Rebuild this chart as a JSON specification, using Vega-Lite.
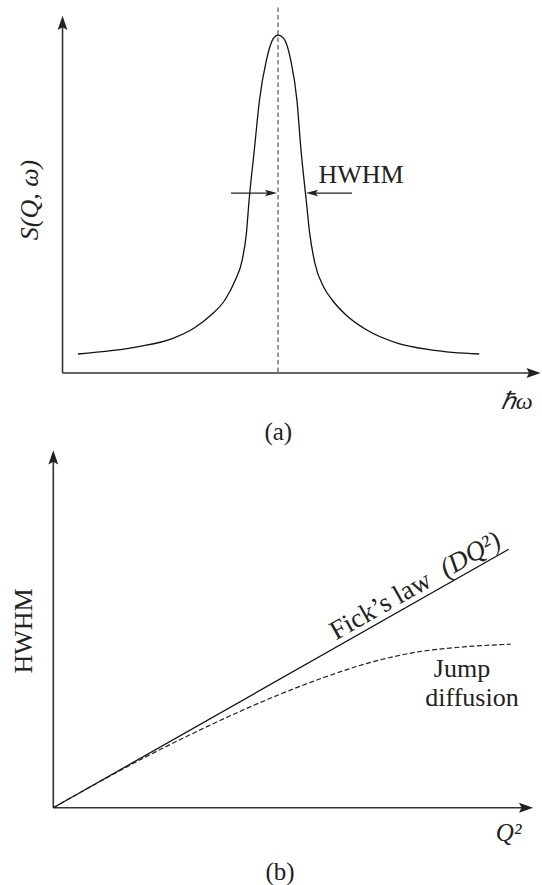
{
  "$schema": "https://vega.github.io/schema/vega-lite/v6.json",
  "padding": 0,
  "spacing": 0,
  "background": "white",
  "config": {"view": {"stroke": null}, "font": "Liberation Serif"},
  "datasets": {
    "axesA": [
      {"x": -7.696, "y": 0, "x2": -7.696, "y2": 1.0355},
      {"x": -7.696, "y": 0, "x2": 9.07, "y2": 0}
    ],
    "centerA": [{"x": 0, "y": 0.003, "x2": 0, "y2": 1.0888}],
    "hwhmLines": [
      {"x": -1.679, "y": 0.5325, "x2": -0.25, "y2": 0.5325},
      {"x": 2.643, "y": 0.5325, "x2": 1.214, "y2": 0.5325}
    ],
    "headsA": [
      {"x": -7.696, "y": 1.0355, "angle": 0},
      {"x": 9.121, "y": 0, "angle": 90}
    ],
    "smallHeads": [
      {"x": -0.25, "y": 0.5325, "angle": 90},
      {"x": 1.214, "y": 0.5325, "angle": 270}
    ],
    "curve": [
      {"x": -7.146, "y": 0.0562}, {"x": -4.986, "y": 0.0778}, {"x": -3.75, "y": 0.1027},
      {"x": -3.007, "y": 0.1322}, {"x": -2.393, "y": 0.1716}, {"x": -1.896, "y": 0.216},
      {"x": -1.525, "y": 0.2751}, {"x": -1.279, "y": 0.3343}, {"x": -1.129, "y": 0.4133},
      {"x": -1.032, "y": 0.5118}, {"x": -0.846, "y": 0.6598}, {"x": -0.661, "y": 0.8077},
      {"x": -0.414, "y": 0.926}, {"x": -0.164, "y": 0.9902}, {"x": 0, "y": 1.0},
      {"x": 0.204, "y": 0.9902}, {"x": 0.454, "y": 0.926}, {"x": 0.675, "y": 0.8077},
      {"x": 0.821, "y": 0.6598}, {"x": 1.007, "y": 0.5118}, {"x": 1.132, "y": 0.4133},
      {"x": 1.318, "y": 0.3246}, {"x": 1.625, "y": 0.2553}, {"x": 1.936, "y": 0.216},
      {"x": 2.429, "y": 0.1716}, {"x": 3.171, "y": 0.1272}, {"x": 4.282, "y": 0.0879},
      {"x": 5.518, "y": 0.068}, {"x": 7.186, "y": 0.0562}
    ],
    "textA": [
      {"x": 2.964, "y": 0.5858, "label": "HWHM", "fs": 26, "angle": 0},
      {"x": 0.0107, "y": -0.1737, "label": "(a)", "fs": 25, "angle": 0}
    ],
    "italicA": [
      {"x": -8.857, "y": 0.5118, "label": "S(Q, ω)", "fs": 26, "angle": 270},
      {"x": 8.525, "y": -0.0849, "label": "ℏω", "fs": 24, "angle": 0}
    ],
    "axesB": [
      {"x": 0, "y": 0, "x2": 0, "y2": 7.69},
      {"x": 0, "y": 0, "x2": 10.35, "y2": 0}
    ],
    "headsB": [
      {"x": 0, "y": 7.69, "angle": 0},
      {"x": 10.377, "y": 0, "angle": 90}
    ],
    "fick": [{"x": 0, "y": 0}, {"x": 10, "y": 5.674}],
    "jump": [
      {"x": 0, "y": 0}, {"x": 1, "y": 0.56}, {"x": 2, "y": 1.1}, {"x": 3, "y": 1.6},
      {"x": 4, "y": 2.07}, {"x": 5, "y": 2.5}, {"x": 6, "y": 2.88}, {"x": 7, "y": 3.2},
      {"x": 8, "y": 3.42}, {"x": 9, "y": 3.53}, {"x": 10.04, "y": 3.59}
    ],
    "fickText": [
      {"x": 7.339, "y": 4.164, "label": "Fick’s law", "fs": 27, "angle": 330.43}
    ],
    "fickMath": [
      {"x": 9.313, "y": 5.284, "label": "(DQ²)", "fs": 27, "angle": 330.43}
    ],
    "textB": [
      {"x": 8.975, "y": 3.046, "label": "Jump", "fs": 26, "angle": 0},
      {"x": 9.194, "y": 2.415, "label": "diffusion", "fs": 26, "angle": 0},
      {"x": -0.639, "y": 3.88, "label": "HWHM", "fs": 26, "angle": 270},
      {"x": 4.978, "y": -1.412, "label": "(b)", "fs": 25, "angle": 0}
    ],
    "italicB": [
      {"x": 9.998, "y": -0.549, "label": "Q²", "fs": 25, "angle": 0}
    ]
  },
  "vconcat": [
    {
      "width": 542,
      "height": 450,
      "encoding": {
        "x": {"field": "x", "type": "quantitative", "scale": {"domain": [-9.929, 9.4286], "nice": false, "zero": false}, "axis": null},
        "y": {"field": "y", "type": "quantitative", "scale": {"domain": [-0.2278, 1.1036], "nice": false, "zero": false}, "axis": null}
      },
      "layer": [
        {
          "data": {"name": "axesA"},
          "mark": {"type": "rule", "color": "#333333", "strokeWidth": 1.6},
          "encoding": {"x2": {"field": "x2"}, "y2": {"field": "y2"}}
        },
        {
          "data": {"name": "centerA"},
          "mark": {"type": "rule", "color": "#555555", "strokeWidth": 1.2, "strokeDash": [4.5, 3]},
          "encoding": {"x2": {"field": "x2"}, "y2": {"field": "y2"}}
        },
        {
          "data": {"name": "hwhmLines"},
          "mark": {"type": "rule", "color": "#222222", "strokeWidth": 1.2},
          "encoding": {"x2": {"field": "x2"}, "y2": {"field": "y2"}}
        },
        {
          "data": {"name": "headsA"},
          "mark": {"type": "point", "shape": "M0,-1L0.68,0.95L0,0.6L-0.68,0.95Z", "filled": true, "color": "#222222", "size": 210, "opacity": 1},
          "encoding": {"angle": {"field": "angle", "type": "quantitative", "scale": null}}
        },
        {
          "data": {"name": "smallHeads"},
          "mark": {"type": "point", "shape": "M0,-1L0.55,1L0,0.6L-0.55,1Z", "filled": true, "color": "#222222", "size": 144, "opacity": 1},
          "encoding": {"angle": {"field": "angle", "type": "quantitative", "scale": null}}
        },
        {
          "data": {"name": "curve"},
          "mark": {"type": "line", "color": "#111111", "strokeWidth": 1.3, "interpolate": "monotone"},
          "encoding": {}
        },
        {
          "data": {"name": "textA"},
          "mark": {"type": "text", "font": "Liberation Serif", "color": "#222222", "align": "center", "baseline": "middle"},
          "encoding": {
            "text": {"field": "label"},
            "size": {"field": "fs", "type": "quantitative", "scale": null},
            "angle": {"field": "angle", "type": "quantitative", "scale": null}
          }
        },
        {
          "data": {"name": "italicA"},
          "mark": {"type": "text", "font": "Liberation Serif", "fontStyle": "italic", "color": "#222222", "align": "center", "baseline": "middle"},
          "encoding": {
            "text": {"field": "label"},
            "size": {"field": "fs", "type": "quantitative", "scale": null},
            "angle": {"field": "angle", "type": "quantitative", "scale": null}
          }
        }
      ]
    },
    {
      "width": 542,
      "height": 435,
      "encoding": {
        "x": {"field": "x", "type": "quantitative", "scale": {"domain": [-1.1704, 10.731], "nice": false, "zero": false}, "axis": null},
        "y": {"field": "y", "type": "quantitative", "scale": {"domain": [-1.7194, 7.8327], "nice": false, "zero": false}, "axis": null}
      },
      "layer": [
        {
          "data": {"name": "axesB"},
          "mark": {"type": "rule", "color": "#333333", "strokeWidth": 1.6},
          "encoding": {"x2": {"field": "x2"}, "y2": {"field": "y2"}}
        },
        {
          "data": {"name": "headsB"},
          "mark": {"type": "point", "shape": "M0,-1L0.68,0.95L0,0.6L-0.68,0.95Z", "filled": true, "color": "#222222", "size": 210, "opacity": 1},
          "encoding": {"angle": {"field": "angle", "type": "quantitative", "scale": null}}
        },
        {
          "data": {"name": "fick"},
          "mark": {"type": "line", "color": "#111111", "strokeWidth": 1.3},
          "encoding": {}
        },
        {
          "data": {"name": "jump"},
          "mark": {"type": "line", "color": "#222222", "strokeWidth": 1.2, "strokeDash": [5, 2.5], "interpolate": "monotone"},
          "encoding": {}
        },
        {
          "data": {"name": "fickText"},
          "mark": {"type": "text", "font": "Liberation Serif", "color": "#222222", "align": "center", "baseline": "alphabetic", "dy": -6},
          "encoding": {
            "text": {"field": "label"},
            "size": {"field": "fs", "type": "quantitative", "scale": null},
            "angle": {"field": "angle", "type": "quantitative", "scale": null}
          }
        },
        {
          "data": {"name": "fickMath"},
          "mark": {"type": "text", "font": "Liberation Serif", "fontStyle": "italic", "color": "#222222", "align": "center", "baseline": "alphabetic", "dy": -6},
          "encoding": {
            "text": {"field": "label"},
            "size": {"field": "fs", "type": "quantitative", "scale": null},
            "angle": {"field": "angle", "type": "quantitative", "scale": null}
          }
        },
        {
          "data": {"name": "textB"},
          "mark": {"type": "text", "font": "Liberation Serif", "color": "#222222", "align": "center", "baseline": "middle"},
          "encoding": {
            "text": {"field": "label"},
            "size": {"field": "fs", "type": "quantitative", "scale": null},
            "angle": {"field": "angle", "type": "quantitative", "scale": null}
          }
        },
        {
          "data": {"name": "italicB"},
          "mark": {"type": "text", "font": "Liberation Serif", "fontStyle": "italic", "color": "#222222", "align": "center", "baseline": "middle"},
          "encoding": {
            "text": {"field": "label"},
            "size": {"field": "fs", "type": "quantitative", "scale": null},
            "angle": {"field": "angle", "type": "quantitative", "scale": null}
          }
        }
      ]
    }
  ]
}
